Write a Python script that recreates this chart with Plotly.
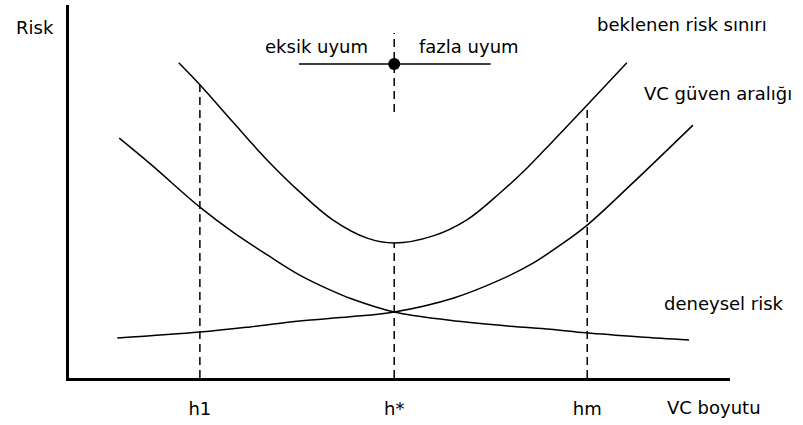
import plotly.graph_objects as go

# ---- data (arbitrary units: x = VC dimension, y = risk) ----
emp_x = [0.76, 1.23, 1.98, 2.48, 3.00, 3.49, 3.99, 4.25, 4.92, 5.76, 6.67, 7.28, 7.82, 8.64, 9.38]
emp_y = [6.43, 5.74, 4.58, 3.91, 3.30, 2.76, 2.33, 2.14, 1.77, 1.55, 1.39, 1.31, 1.21, 1.10, 1.02]

conf_x = [0.73, 1.98, 2.74, 3.49, 4.25, 4.92, 5.81, 6.52, 7.02, 7.43, 7.84, 8.53, 9.44]
conf_y = [1.07, 1.23, 1.37, 1.53, 1.64, 1.77, 2.14, 2.63, 3.08, 3.56, 4.10, 5.23, 6.78]

bound_x = [1.66, 1.98, 2.48, 3.00, 3.49, 3.99, 4.51, 4.92, 5.51, 6.02, 6.52, 6.93, 7.32, 7.84, 8.44]
bound_y = [8.45, 7.86, 6.86, 5.84, 4.99, 4.24, 3.75, 3.62, 3.81, 4.24, 4.96, 5.63, 6.35, 7.32, 8.45]

h_vals = [1.98, 4.92, 7.84]
h_labels = ["h1", "h*", "hm"]
h_tops = [7.86, 3.62, 7.32]          # where each dashed line meets the bound curve

hstar_upper = [7.13, 9.25]           # short dashed segment through the fit marker
fit_x = [3.48, 6.38]                 # under-fit / over-fit bar
fit_y = 8.42

curve_labels = {
    "beklenen risk sınırı": (7.96, 9.49),
    "VC güven aralığı": (8.67, 7.64),
    "deneysel risk": (8.97, 2.01),
}

FONT = "DejaVu Sans"
fig = go.Figure()

line_style = dict(color="black", width=1.5)
for xs, ys in [(emp_x, emp_y), (conf_x, conf_y), (bound_x, bound_y)]:
    fig.add_trace(go.Scatter(x=xs, y=ys, mode="lines", line=dict(**line_style, shape="spline", smoothing=1.0),
                             hoverinfo="skip", showlegend=False))

dash_style = dict(color="black", width=1.5, dash="8px,5px")
for hv, ht in zip(h_vals, h_tops):
    fig.add_trace(go.Scatter(x=[hv, hv], y=[0, ht], mode="lines", line=dash_style,
                             hoverinfo="skip", showlegend=False))
fig.add_trace(go.Scatter(x=[h_vals[1], h_vals[1]], y=hstar_upper, mode="lines", line=dash_style,
                         hoverinfo="skip", showlegend=False))

fig.add_trace(go.Scatter(x=fit_x, y=[fit_y, fit_y], mode="lines", line=line_style,
                         hoverinfo="skip", showlegend=False))
fig.add_trace(go.Scatter(x=[h_vals[1]], y=[fit_y], mode="markers",
                         marker=dict(color="black", size=12), hoverinfo="skip", showlegend=False))

ann = []
for txt, (ax, ay) in curve_labels.items():
    ann.append(dict(x=ax, y=ay, text=txt, xanchor="left", yanchor="middle", showarrow=False))
ann.append(dict(x=4.55, y=8.90, text="eksik uyum", xanchor="right", yanchor="middle", showarrow=False))
ann.append(dict(x=5.26, y=8.90, text="fazla uyum", xanchor="left", yanchor="middle", showarrow=False))
ann.append(dict(xref="paper", yref="paper", x=-0.083, y=0.941, text="Risk",
                xanchor="left", yanchor="middle", showarrow=False))
ann.append(dict(xref="paper", yref="paper", x=0.902, y=-0.078, text="VC boyutu",
                xanchor="left", yanchor="middle", showarrow=False))

fig.update_layout(
    width=803, height=425,
    margin=dict(l=69, r=73, t=5, b=47),
    paper_bgcolor="white", plot_bgcolor="white",
    font=dict(family=FONT, size=18, color="black"),
    annotations=ann,
    xaxis=dict(range=[0, 10], showgrid=False, zeroline=False, showline=True, linecolor="black", linewidth=3,
               tickvals=h_vals, ticktext=h_labels, ticks="outside", ticklen=12,
               tickcolor="rgba(0,0,0,0)", tickfont=dict(family=FONT, size=18, color="black")),
    yaxis=dict(range=[0, 10], showgrid=False, zeroline=False, showline=True, linecolor="black", linewidth=3,
               showticklabels=False, ticks=""),
)

fig.write_html("out.html", config={"displayModeBar": False},
               post_script="document.body.style.margin='0';")
